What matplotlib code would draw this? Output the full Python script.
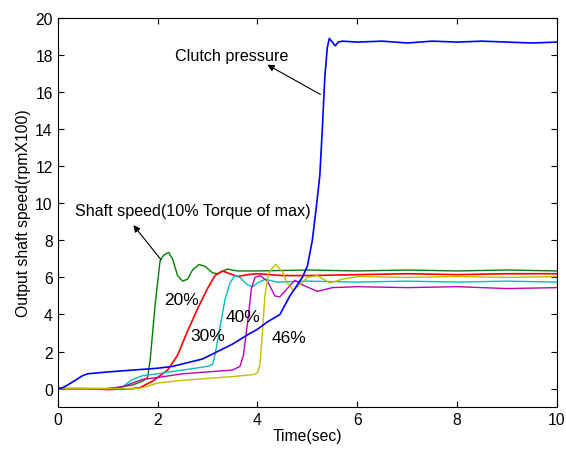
import matplotlib.pyplot as plt

# Output shaft speed for different torque levels (time in sec, speed in rpm x 100)
t_green = [0, 0.5, 1.0, 1.2, 1.5, 1.7, 1.8, 1.85, 1.95, 2.05, 2.12, 2.22, 2.3, 2.4, 2.5, 2.6, 2.7, 2.83, 2.95, 3.1, 3.2, 3.4, 3.6, 4.0, 5.0, 6.0, 7.0, 8.0, 9.0, 10.0]
v_green = [0.0, 0.0, 0.0, 0.05, 0.2, 0.4, 0.6, 1.5, 4.5, 6.9, 7.2, 7.35, 7.0, 6.1, 5.8, 5.9, 6.4, 6.7, 6.6, 6.25, 6.2, 6.45, 6.35, 6.35, 6.4, 6.35, 6.4, 6.35, 6.4, 6.35]

t_red = [0, 0.5, 1.0, 1.5, 1.65, 1.75, 1.9, 2.0, 2.2, 2.4, 2.6, 2.8, 3.0, 3.15, 3.3, 3.45, 3.6, 3.8, 4.0, 4.5, 5.0, 6.0, 7.0, 8.0, 9.0, 10.0]
v_red = [0.0, 0.0, -0.05, 0.0, 0.05, 0.2, 0.4, 0.6, 1.0, 1.8, 3.1, 4.3, 5.4, 6.1, 6.35, 6.2, 6.05, 6.15, 6.2, 6.1, 6.1, 6.15, 6.2, 6.15, 6.2, 6.2]

t_cyan = [0, 0.5, 1.0, 1.3, 1.5, 1.7, 2.0, 2.5, 3.0, 3.1, 3.15, 3.25, 3.35, 3.45, 3.55, 3.65, 3.8, 3.9, 4.0, 4.15, 4.4, 5.0, 6.0, 7.0, 8.0, 9.0, 10.0]
v_cyan = [0.0, 0.0, 0.0, 0.1, 0.5, 0.7, 0.8, 1.0, 1.2, 1.3, 1.8, 3.3, 4.8, 5.7, 6.1, 6.0, 5.6, 5.5, 5.7, 5.9, 5.75, 5.8, 5.75, 5.8, 5.75, 5.8, 5.75]

t_mag = [0, 0.5, 1.0, 1.3, 1.5, 1.7, 2.0, 2.5, 3.0, 3.5, 3.65, 3.72, 3.8, 3.88, 3.95, 4.05, 4.2, 4.35, 4.45, 4.6, 4.75, 4.9, 5.2, 5.5, 6.0, 7.0, 8.0, 9.0, 10.0]
v_mag = [0.0, 0.0, 0.0, 0.1, 0.3, 0.5, 0.6, 0.8, 0.9, 1.0, 1.2, 1.8, 3.5, 5.4, 6.0, 6.1, 5.8, 5.0, 4.95, 5.4, 5.85, 5.6, 5.25, 5.45, 5.5, 5.45, 5.5, 5.4, 5.45]

t_yel = [0, 0.5, 1.0, 1.5, 1.7, 2.0, 2.5, 3.0, 3.5, 3.9, 4.0, 4.05, 4.1, 4.15, 4.22, 4.3, 4.37, 4.5, 4.6, 4.72, 4.85, 5.0, 5.2, 5.45, 5.7, 6.0, 7.0, 8.0, 9.0, 10.0]
v_yel = [0.0, 0.0, 0.0, 0.0, 0.05, 0.3, 0.45, 0.55, 0.65, 0.75, 0.85, 1.3, 3.0, 5.0, 6.2, 6.5, 6.7, 6.3, 5.7, 5.3, 5.6, 6.0, 6.1, 5.7, 5.9, 6.05, 6.0, 6.05, 6.0, 6.05]

# Clutch pressure (same scale)
t_blue = [0, 0.1, 0.2, 0.35, 0.5, 0.6, 0.8, 1.0, 1.5, 2.0, 2.3, 2.6, 2.9, 3.2, 3.5, 3.8, 4.0, 4.2, 4.45, 4.65, 4.8, 4.9, 5.0, 5.1, 5.18, 5.25, 5.3, 5.35, 5.4, 5.44, 5.5, 5.56, 5.62, 5.7, 6.0, 6.5, 7.0, 7.5, 8.0, 8.5, 9.0, 9.5, 10.0]
v_blue = [0.0, 0.05, 0.2, 0.45, 0.7, 0.8, 0.85, 0.9, 1.0, 1.1, 1.2, 1.4, 1.6, 2.0, 2.4, 2.9, 3.2, 3.6, 4.0, 5.0, 5.6, 6.0, 6.6, 8.0, 9.8, 11.5, 14.0, 16.8, 18.4, 18.9, 18.7, 18.5, 18.7, 18.75, 18.7, 18.75, 18.65, 18.75, 18.7, 18.75, 18.7, 18.65, 18.7]

FONT = ['Liberation Sans', 'DejaVu Sans']
plt.rcParams['font.family'] = FONT

fig, ax = plt.subplots(figsize=(5.66, 4.52), dpi=100)
fig.subplots_adjust(left=0.102, right=0.984, bottom=0.097, top=0.958)

ax.plot(t_green, v_green, color='g', lw=1)
ax.plot(t_red, v_red, color='r', lw=1.2)
ax.plot(t_cyan, v_cyan, color='c', lw=1)
ax.plot(t_mag, v_mag, color='m', lw=1)
ax.plot(t_yel, v_yel, color='y', lw=1)
ax.plot(t_blue, v_blue, color='b', lw=1.2)

ax.set_xlim(0, 10)
ax.set_ylim(-1, 20)
ax.set_xticks(range(0, 11, 2))
ax.set_yticks(range(0, 21, 2))
ax.tick_params(direction='in', top=True, right=True, labelsize=11.3, length=4)
for s in ax.spines.values():
    s.set_linewidth(0.8)
ax.set_xlabel('Time(sec)', fontsize=11.3, labelpad=1)
ax.set_ylabel('Output shaft speed(rpmX100)', fontsize=11.3, labelpad=3)

# Annotations
arrow = dict(arrowstyle='-|>', color='black', lw=0.8, mutation_scale=10)
ax.annotate('', xy=(4.15, 17.55), xytext=(5.31, 15.8), arrowprops=arrow)
ax.annotate('', xy=(1.48, 8.94), xytext=(2.1, 6.85), arrowprops=arrow)
ax.text(2.34, 18.0, 'Clutch pressure', fontsize=11.6, va='center')
ax.text(0.34, 9.6, 'Shaft speed(10% Torque of max)', fontsize=11.6, va='center')
ax.text(2.14, 4.8, '20%', fontsize=12.5, va='center')
ax.text(2.65, 2.85, '30%', fontsize=12.5, va='center')
ax.text(3.37, 3.9, '40%', fontsize=12.5, va='center')
ax.text(4.29, 2.75, '46%', fontsize=12.5, va='center')

fig.savefig('out.png', dpi=100)
